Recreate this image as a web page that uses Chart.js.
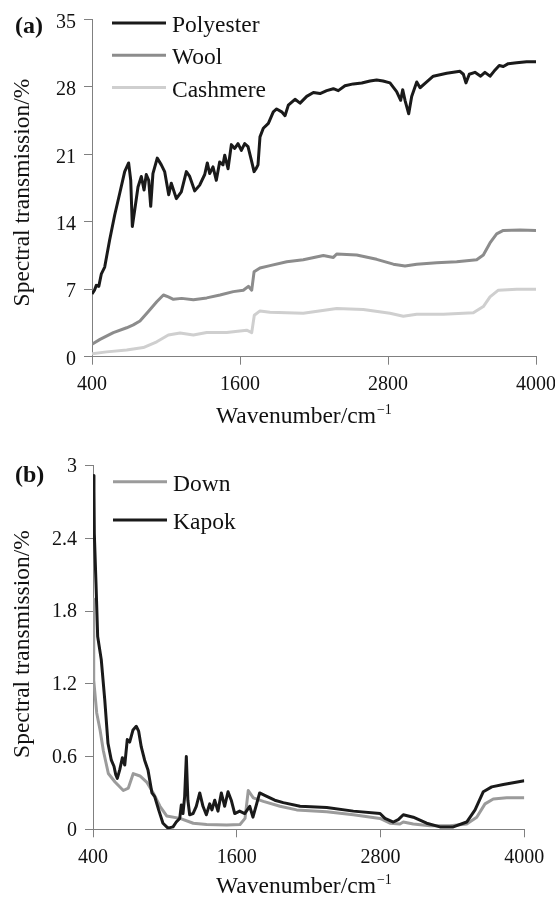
<!DOCTYPE html>
<html>
<head>
<meta charset="utf-8">
<script src="https://cdn.jsdelivr.net/npm/chart.js@4/dist/chart.umd.min.js"></script>
<style>
  html, body { margin: 0; padding: 0; background: #fff; }
  #wrap { position: relative; width: 555px; height: 897px; }
  canvas { position: absolute; left: 0; }
</style>
</head>
<body>
<div id="wrap">
  <canvas id="chartA" width="555" height="445" style="top:0"></canvas>
  <canvas id="chartB" width="555" height="452" style="top:445px"></canvas>
</div>
<script>
// tick labels
var xTicks = [400, 1600, 2800, 4000];
var yTicksA = [0, 7, 14, 21, 28, 35];
var yTicksB = [0, 0.6, 1.2, 1.8, 2.4, 3];

// (a) polyester, wool, cashmere
var polyesterWn = [400, 420, 435, 455, 476, 503, 520, 543, 584, 624, 665, 697, 714, 727, 746, 773, 800, 822, 840, 860,
  876, 894, 929, 962, 989, 1022, 1043, 1084, 1124, 1165, 1192, 1233, 1273, 1314, 1335, 1354, 1381, 1408, 1435, 1462,
  1476, 1503, 1530, 1557, 1584, 1611, 1638, 1665, 1692, 1714, 1730, 1746, 1762, 1789, 1830, 1870, 1897, 1938, 1965, 1992,
  2046, 2087, 2141, 2195, 2249, 2303, 2357, 2397, 2451, 2519, 2587, 2654, 2708, 2760, 2816, 2870, 2903, 2919, 2938, 2968,
  2992, 3033, 3060, 3114, 3167, 3276, 3384, 3411, 3432, 3459, 3505, 3551, 3586, 3627, 3659, 3702, 3735, 3775, 3843, 3924, 4000];
var polyesterT = [6.5, 6.9, 7.4, 7.3, 8.6, 9.3, 10.5, 12.1, 14.7, 16.9, 19.2, 20.1, 18.3, 13.5, 15.2, 17.6, 18.7, 17.3, 18.9, 18.3,
  15.6, 19.0, 20.6, 19.9, 19.2, 16.8, 18.0, 16.4, 17.1, 19.2, 18.7, 17.2, 17.8, 18.9, 20.1, 19.0, 19.7, 18.3, 20.2, 19.9,
  20.9, 19.5, 22.0, 21.6, 22.1, 21.4, 22.1, 21.8, 20.4, 19.2, 19.5, 19.9, 22.8, 23.7, 24.2, 25.4, 25.7, 25.4, 25.0, 26.1,
  26.7, 26.3, 27.0, 27.4, 27.3, 27.6, 27.8, 27.6, 28.1, 28.3, 28.4, 28.6, 28.7, 28.6, 28.4, 27.5, 26.6, 27.7, 26.6, 25.2,
  27.0, 28.5, 27.9, 28.5, 29.1, 29.4, 29.6, 29.3, 28.4, 29.3, 29.5, 29.1, 29.5, 29.1, 29.6, 30.2, 30.1, 30.4, 30.5, 30.6, 30.6];

var woolWn = [400, 465, 573, 681, 735, 789, 857, 925, 979, 1019, 1060, 1127, 1222, 1330, 1438, 1546, 1627, 1668, 1695, 1714,
  1762, 1843, 1979, 2113, 2276, 2357, 2384, 2546, 2708, 2843, 2938, 3033, 3194, 3357, 3519, 3573, 3627, 3681, 3735, 3870, 4000];
var woolT = [1.3, 1.8, 2.5, 3.0, 3.3, 3.7, 4.7, 5.7, 6.4, 6.2, 5.95, 6.05, 5.9, 6.1, 6.4, 6.75, 6.9, 7.3, 6.9, 8.8,
  9.2, 9.45, 9.85, 10.05, 10.5, 10.3, 10.65, 10.55, 10.1, 9.6, 9.4, 9.6, 9.75, 9.85, 10.05, 10.55, 11.8, 12.75, 13.1, 13.15, 13.1];

var cashmereWn = [400, 519, 681, 816, 925, 1019, 1114, 1222, 1330, 1492, 1654, 1695, 1716, 1762, 1843, 2113, 2384, 2600,
  2816, 2924, 3033, 3249, 3492, 3573, 3627, 3695, 3843, 4000];
var cashmereT = [0.3, 0.5, 0.7, 0.95, 1.55, 2.25, 2.45, 2.25, 2.5, 2.5, 2.75, 2.5, 4.3, 4.75, 4.6, 4.5, 5.0, 4.9,
  4.5, 4.2, 4.4, 4.4, 4.55, 5.2, 6.2, 6.9, 7.0, 7.0];

// (b) down, kapok
var downWn = [400, 404, 408, 431, 459, 486, 528, 584, 653, 695, 736, 792, 848, 903, 959, 1015, 1126, 1237, 1349, 1516,
  1627, 1669, 1696, 1738, 1822, 1961, 2100, 2351, 2573, 2796, 2879, 2962, 2990, 3073, 3213, 3380, 3519, 3603, 3672, 3741, 3853, 4000];
var downT = [1.9, 1.5, 1.23, 0.96, 0.82, 0.65, 0.46, 0.39, 0.32, 0.34, 0.46, 0.44, 0.39, 0.30, 0.19, 0.11, 0.09, 0.05, 0.04, 0.035,
  0.04, 0.09, 0.32, 0.26, 0.23, 0.19, 0.16, 0.145, 0.12, 0.09, 0.05, 0.044, 0.06, 0.044, 0.03, 0.03, 0.044, 0.10, 0.21, 0.25, 0.26, 0.26];

var kapokWn = [400, 408, 411, 425, 439, 469, 498, 525, 553, 575, 590, 603, 623, 645, 665, 686, 706, 734, 761, 781,
  803, 831, 859, 892, 915, 948, 984, 1026, 1068, 1095, 1124, 1137, 1151, 1165, 1179, 1192, 1207, 1235, 1262, 1291,
  1318, 1346, 1374, 1393, 1416, 1443, 1471, 1499, 1527, 1554, 1583, 1624, 1666, 1708, 1735, 1763, 1791, 1833, 1917, 1988,
  2128, 2351, 2573, 2796, 2837, 2907, 2948, 2990, 3073, 3185, 3296, 3407, 3519, 3589, 3658, 3728, 3825, 4000];
var kapokT = [2.92, 2.8, 2.44, 2.03, 1.59, 1.40, 1.07, 0.71, 0.57, 0.52, 0.45, 0.42, 0.49, 0.59, 0.53, 0.74, 0.72, 0.82, 0.85, 0.81,
  0.68, 0.57, 0.49, 0.30, 0.27, 0.16, 0.05, 0.01, 0.02, 0.06, 0.09, 0.20, 0.13, 0.27, 0.60, 0.24, 0.12, 0.13, 0.19, 0.30,
  0.19, 0.12, 0.21, 0.16, 0.24, 0.15, 0.30, 0.19, 0.31, 0.24, 0.13, 0.15, 0.13, 0.19, 0.10, 0.20, 0.30, 0.28, 0.24, 0.22,
  0.19, 0.18, 0.15, 0.13, 0.09, 0.06, 0.08, 0.12, 0.10, 0.05, 0.02, 0.02, 0.06, 0.16, 0.31, 0.35, 0.37, 0.40];

var serif = "'Liberation Serif', 'Times New Roman', serif";
var axisColor = "#808080";

function points(wn, vals) {
  return wn.map(function (w, i) { return { x: w, y: vals[i] }; });
}

function line(label, wn, vals, color, order) {
  return {
    label: label,
    data: points(wn, vals),
    borderColor: color,
    borderWidth: 3,
    borderJoinStyle: "round",
    pointRadius: 0,
    tension: 0,
    order: order,
  };
}

// panel letter, legend and axis titles
var textPlugin = {
  id: "panelText",
  afterDraw: function (chart, args, o) {
    var ctx = chart.ctx;
    ctx.save();
    ctx.fillStyle = "#111";
    ctx.textAlign = "left";
    ctx.textBaseline = "alphabetic";

    ctx.font = "bold 24px " + serif;
    ctx.fillText(o.panel, 15, o.panelY);

    ctx.font = "23.5px " + serif;
    chart.data.datasets.forEach(function (ds, i) {
      var y = o.legendY + i * o.legendGap;
      ctx.strokeStyle = ds.borderColor;
      ctx.lineWidth = 3;
      ctx.beginPath();
      ctx.moveTo(o.legendX, y - 9);
      ctx.lineTo(o.legendX + 54, y - 9);
      ctx.stroke();
      ctx.fillText(ds.label, o.legendX + 60, y);
    });

    // x title with superscript
    var main = "Wavenumber/cm";
    ctx.fillText(main, 216, o.xTitleY);
    var w = ctx.measureText(main).width;
    ctx.font = "14px " + serif;
    ctx.fillText("\u22121", 216 + w + 1, o.xTitleY - 9);

    // y title
    ctx.font = "23.5px " + serif;
    ctx.translate(29, o.yTitleY);
    ctx.rotate(-Math.PI / 2);
    ctx.textAlign = "center";
    ctx.fillText("Spectral transmission/%", 0, 0);
    ctx.restore();
  },
};

function scales(yTicks, yMax, xHeight, yWidth, yLabelOffset) {
  var tickFont = { family: serif, size: 20 };
  return {
    x: {
      type: "linear",
      min: 400,
      max: 4000,
      afterBuildTicks: function (s) { s.ticks = xTicks.map(function (v) { return { value: v }; }); },
      afterFit: function (s) { s.height = xHeight; s.paddingLeft = 0; s.paddingRight = 0; },
      grid: { drawOnChartArea: false, tickLength: 8, color: axisColor, lineWidth: 1 },
      border: { color: axisColor, width: 1 },
      ticks: { font: tickFont, color: "#111", padding: 8, maxRotation: 0, autoSkip: false,
        callback: function (v) { return String(v); } },
    },
    y: {
      min: 0,
      max: yMax,
      afterBuildTicks: function (s) { s.ticks = yTicks.map(function (v) { return { value: v }; }); },
      afterFit: function (s) { s.width = yWidth; s.paddingTop = 0; s.paddingBottom = 0; },
      grid: { drawOnChartArea: false, tickLength: 8, color: axisColor, lineWidth: 1 },
      border: { color: axisColor, width: 1 },
      ticks: { font: tickFont, color: "#111", padding: 8, autoSkip: false, labelOffset: yLabelOffset,
        callback: function (v) { return String(v); } },
    },
  };
}

new Chart(document.getElementById("chartA"), {
  type: "line",
  data: {
    datasets: [
      line("Polyester", polyesterWn, polyesterT, "#1a1a1a", 0),
      line("Wool", woolWn, woolT, "#8c8c8c", 1),
      line("Cashmere", cashmereWn, cashmereT, "#cfcfcf", 2),
    ],
  },
  options: {
    responsive: false,
    animation: false,
    layout: { padding: { top: 19.3, right: 19, left: 0, bottom: 0 } },
    scales: scales(yTicksA, 35, 88.3, 92, 3),
    plugins: {
      legend: { display: false },
      tooltip: { enabled: false },
      panelText: { panel: "(a)", panelY: 33, legendX: 112, legendY: 32, legendGap: 32.3, xTitleY: 422.7, yTitleY: 192.5 },
    },
  },
  plugins: [textPlugin],
});

new Chart(document.getElementById("chartB"), {
  type: "line",
  data: {
    datasets: [
      line("Down", downWn, downT, "#9b9b9b", 1),
      line("Kapok", kapokWn, kapokT, "#1a1a1a", 0),
    ],
  },
  options: {
    responsive: false,
    animation: false,
    layout: { padding: { top: 20.7, right: 30.7, left: 0, bottom: 0 } },
    scales: scales(yTicksB, 3, 67.7, 93, 1),
    plugins: {
      legend: { display: false },
      tooltip: { enabled: false },
      panelText: { panel: "(b)", panelY: 37, legendX: 113, legendY: 45.7, legendGap: 38.3, xTitleY: 447.7, yTitleY: 199 },
    },
  },
  plugins: [textPlugin],
});
</script>
</body>
</html>
